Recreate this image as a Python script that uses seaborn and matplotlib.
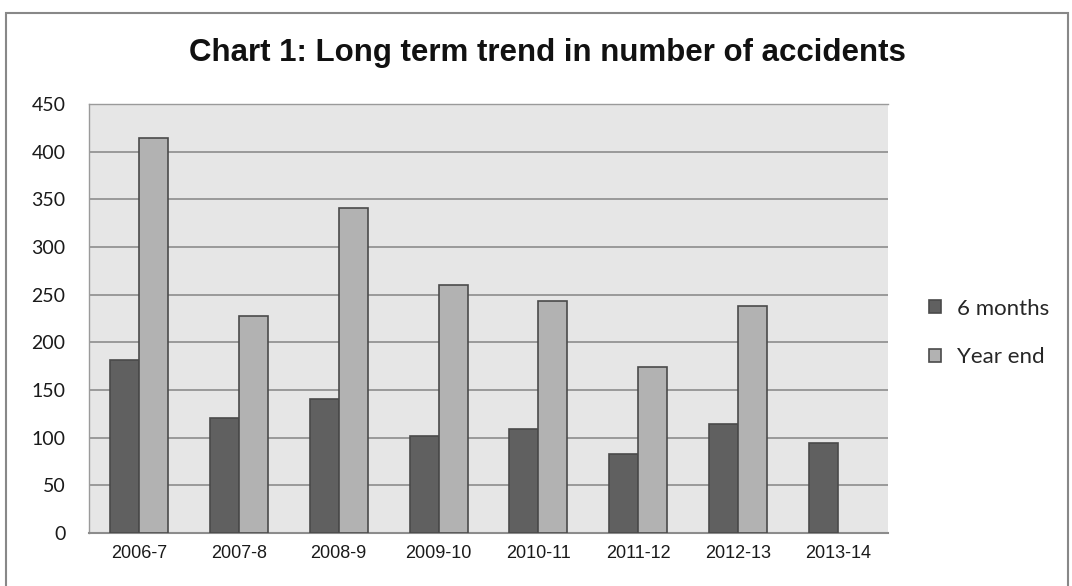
import matplotlib

matplotlib.use("Agg")
import matplotlib.pyplot as plt
import pandas as pd
import seaborn as sns
from matplotlib.patches import Rectangle

YEARS = ["2006-7", "2007-8", "2008-9", "2009-10", "2010-11", "2011-12", "2012-13", "2013-14"]
SIX_MONTHS = [181, 121, 141, 102, 109, 83, 114, 94]
YEAR_END = [414, 228, 341, 260, 243, 174, 238, None]
SERIES = ["6 months", "Year end"]
Y_TICKS = list(range(0, 451, 50))


def build_frame() -> pd.DataFrame:
    df = pd.DataFrame({"year": YEARS, SERIES[0]: SIX_MONTHS, SERIES[1]: YEAR_END})
    return df.melt(id_vars=["year"], var_name="series", value_name="count")


def main() -> None:
    sns.set_style("white")
    plt.rcParams["font.family"] = ["Liberation Sans", "DejaVu Sans"]

    fig = plt.figure(figsize=(10.72, 5.86), dpi=100)
    ax = fig.add_axes([89 / 1072, 1 - 533 / 586, 799 / 1072, 429 / 586])

    df = build_frame()
    sns.barplot(
        data=df,
        x="year",
        y="count",
        hue="series",
        order=YEARS,
        hue_order=SERIES,
        palette=["#606060", "#b2b2b2"],
        width=0.58,
        edgecolor="#4a4a4a",
        linewidth=1.2,
        saturation=1,
        ax=ax,
        zorder=3,
    )

    ax.set_facecolor("#e6e6e6")
    ax.set_ylim(0, 450)
    ax.set_yticks(Y_TICKS)
    ax.set_xlim(-0.5, len(YEARS) - 0.5)
    ax.yaxis.grid(True, color="#8c8c8c", linewidth=1.2, zorder=0)
    ax.set_axisbelow(True)
    for side in ["left", "top"]:
        ax.spines[side].set_color("#9a9a9a")
        ax.spines[side].set_linewidth(1.0)
    ax.spines["right"].set_visible(False)
    ax.spines["bottom"].set_color("#8c8c8c")
    ax.spines["bottom"].set_linewidth(1.5)
    ax.tick_params(axis="both", length=0, colors="#1a1a1a")
    ax.tick_params(axis="x", labelsize=13, pad=9)
    ax.tick_params(axis="y", labelsize=14, pad=17)
    for lbl in ax.get_yticklabels():
        lbl.set_fontfamily(["Lato", "DejaVu Sans"])
    ax.set_xlabel("")
    ax.set_ylabel("")

    handles, labels = ax.get_legend_handles_labels()
    leg = ax.legend(
        handles,
        labels,
        loc="center left",
        bbox_to_anchor=(929 / 1072, 1 - 333 / 586),
        bbox_transform=fig.transFigure,
        frameon=False,
        fontsize=16,
        borderpad=0,
        borderaxespad=0,
        handlelength=0.55,
        handleheight=0.55,
        handletextpad=0.7,
        labelspacing=1.3,
    )
    for txt in leg.get_texts():
        txt.set_fontfamily(["Lato", "DejaVu Sans"])

    fig.text(
        547 / 1072,
        1 - 53 / 586,
        "Chart 1: Long term trend in number of accidents",
        ha="center",
        va="center",
        fontsize=22.5,
        fontweight="bold",
        color="#111111",
    )

    fig.patches.append(
        Rectangle(
            (6 / 1072, -0.01),
            1062 / 1072,
            1 - 13 / 586 + 0.01,
            transform=fig.transFigure,
            fill=False,
            edgecolor="#888888",
            linewidth=1.5,
        )
    )

    fig.savefig("out.png", dpi=100)


if __name__ == "__main__":
    main()
